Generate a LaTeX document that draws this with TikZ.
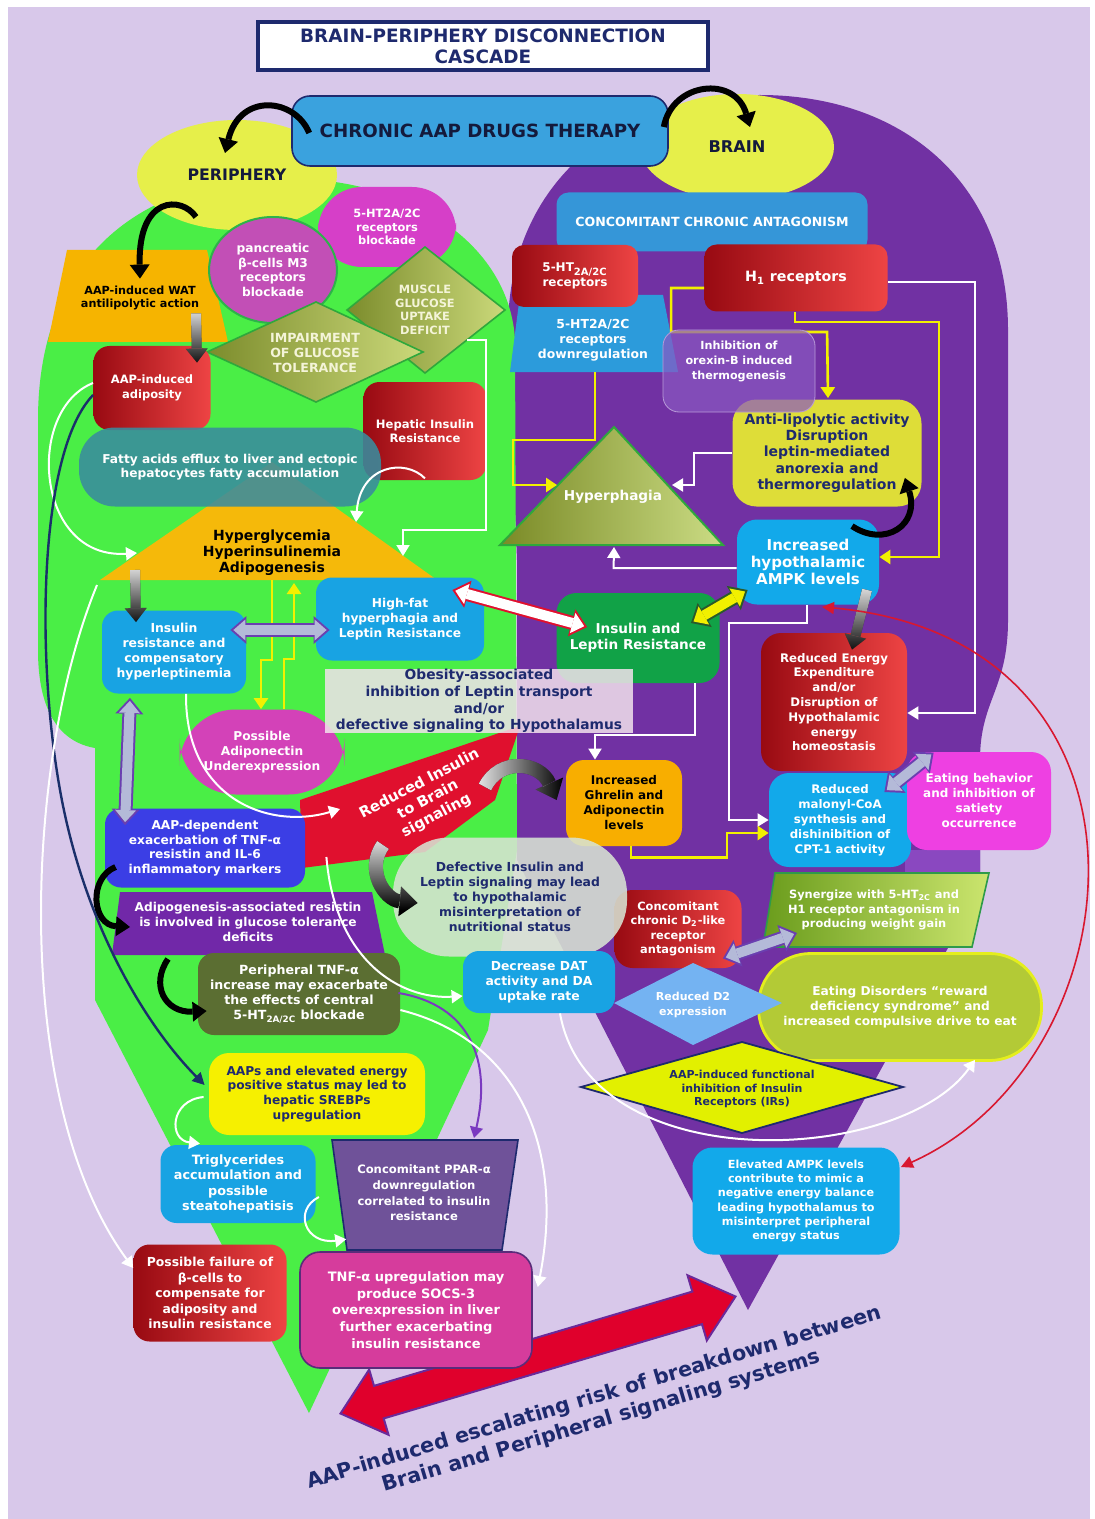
\documentclass[tikz,border=0pt]{standalone}
\usepackage{fontspec}
\setmainfont{DejaVu Sans}
\usetikzlibrary{arrows.meta,shapes.geometric,calc,fadings}
\definecolor{lav}{HTML}{D8C8EA}
\definecolor{grn}{HTML}{4AEE46}
\definecolor{pur}{HTML}{7131A3}
\definecolor{yel}{HTML}{E6EF4A}
\definecolor{navy}{HTML}{1E2A6E}
\definecolor{ink}{HTML}{141A3C}
\definecolor{cblue}{HTML}{3AA2DE}
\definecolor{bblue}{HTML}{18A3E3}
\definecolor{ablue}{HTML}{12A9EA}
\definecolor{cblue2}{HTML}{3596D8}
\definecolor{dblue}{HTML}{2C9BDB}
\definecolor{dred}{HTML}{980A12}
\definecolor{lred}{HTML}{EE4444}
\definecolor{mag1}{HTML}{D63FC8}
\definecolor{pancc}{HTML}{C24FB6}
\definecolor{pgreen}{HTML}{2DB34A}
\definecolor{olD}{HTML}{7C8C2C}
\definecolor{olL}{HTML}{CBD97A}
\definecolor{cream}{HTML}{F4F4D8}
\definecolor{dgreen}{HTML}{2FA83C}
\definecolor{orng}{HTML}{F6B400}
\definecolor{orng2}{HTML}{F5B90A}
\definecolor{teal}{HTML}{3A8C9E}
\definecolor{vblue}{HTML}{3B3EE5}
\definecolor{apur}{HTML}{7128A8}
\definecolor{olv}{HTML}{5B6E32}
\definecolor{ylw2}{HTML}{F6F000}
\definecolor{ppurp}{HTML}{6F5299}
\definecolor{pink2}{HTML}{D63C9C}
\definecolor{pbord}{HTML}{5A2C7A}
\definecolor{rred}{HTML}{E0102E}
\definecolor{obes}{HTML}{F2E2EC}
\definecolor{defc}{HTML}{D8E3D3}
\definecolor{orx}{HTML}{8A58C2}
\definecolor{orxb}{HTML}{B89AD8}
\definecolor{ylw3}{HTML}{DEDD38}
\definecolor{olD2}{HTML}{7A8A26}
\definecolor{olL2}{HTML}{CBDC84}
\definecolor{igreen}{HTML}{11A247}
\definecolor{gorange}{HTML}{F8AE00}
\definecolor{emag}{HTML}{EE40E2}
\definecolor{sgD}{HTML}{6A9C1C}
\definecolor{sgL}{HTML}{CBE56E}
\definecolor{sgB}{HTML}{2E9A4A}
\definecolor{ldblue}{HTML}{74B3F2}
\definecolor{edis}{HTML}{B3CA36}
\definecolor{edisB}{HTML}{E4EE1C}
\definecolor{ylw4}{HTML}{E2F000}
\definecolor{yln}{HTML}{F2F000}
\definecolor{wlav}{HTML}{B4BAD8}
\definecolor{dbpur}{HTML}{6A3FB0}
\definecolor{bigred}{HTML}{E0002C}
\definecolor{arrbord}{HTML}{6A2A9A}
\definecolor{adm}{HTML}{D342B8}
\definecolor{rcurve}{HTML}{D81830}
\definecolor{pcurve}{HTML}{7A3AC0}
\definecolor{ncurve}{HTML}{1A2F6A}
\definecolor{dkg}{HTML}{2A5A2A}
\definecolor{pur3}{HTML}{8A48C0}
\tikzfading[name=fdS, top color=transparent!0, bottom color=transparent!100]
\tikzfading[name=fdE, left color=transparent!0, right color=transparent!100]
\tikzset{
  every node/.style={align=center, inner sep=0pt},
  fs/.style 2 args={font=\fontsize{#1}{#2}\selectfont\bfseries},
  sz/.style 2 args={minimum width=#1*0.5pt, minimum height=#2*0.5pt},
  rbox/.style={rounded corners=#1},
  redg/.style={left color=dred, right color=lred},
  wt/.style={text=white},
  wline/.style={draw=white, line width=1pt, -{Triangle[length=5.5pt,width=6.5pt]}},
  yline/.style={draw=yln, line width=1.3pt, -{Triangle[length=5.5pt,width=7pt]}},
  blk/.style={draw=black, line width=3pt, -{Triangle[length=7pt,width=10pt,line width=0pt]}},
  garrS/.style={line width=5pt, -{Triangle[length=7pt,width=11pt,line width=0pt]}},
  garrC/.style={line width=7pt, -{Triangle[length=9pt,width=15pt,line width=0pt]}},
}
\newcommand\gradarr[3]{\draw[#1,black] #3; \draw[#1,black!10,path fading=#2] #3;}
\newcommand\dblarr[4]{%
  \draw[line width=7pt,draw=#3,{Triangle[length=8pt,width=14pt,line width=0pt]}-{Triangle[length=8pt,width=14pt,line width=0pt]}] #1 -- #2;
  \draw[line width=5pt,draw=#4,shorten <=1.5pt,shorten >=1.5pt,{Triangle[length=6pt,width=10.5pt,line width=0pt]}-{Triangle[length=6pt,width=10.5pt,line width=0pt]}] #1 -- #2;}
\begin{document}
\begin{tikzpicture}[x=0.5pt,y=-0.5pt]
\useasboundingbox (0,0) rectangle (1094,1519);
\fill[white] (0,0) rectangle (1094,1519);
\fill[lav] (8,7) rectangle (1090,1519);
% brain region
\fill[pur] (748,1310) -- (517,860) -- (517,560) -- (508,330) .. controls (508,180) and (620,95) .. (760,95) .. controls (900,95) and (1008,180) .. (1008,330) -- (1008,620) .. controls (1008,690) and (980,700) .. (980,760) -- (980,890) -- cycle;
\fill[pur3] (905,850) -- (980,850) -- (980,890) -- (955,935) -- (905,935) -- cycle;
% periphery region
\fill[grn] (309,1413) -- (95,1000) -- (95,748) .. controls (60,742) and (38,712) .. (38,650) -- (38,420) .. controls (38,250) and (150,178) .. (280,178) .. controls (420,178) and (510,250) .. (515,340) -- (517,850) -- (488,1030) -- cycle;
% big double arrow
\begin{scope}[shift={(538,1355)},rotate=16.5]
\filldraw[fill=bigred,draw=arrbord,line width=1pt] (-206,0) -- (-166,-34) -- (-166,-17) -- (166,-17) -- (166,-34) -- (206,0) -- (166,34) -- (166,17) -- (-166,17) -- (-166,34) -- cycle;
\end{scope}
\node[rotate=16.5,text=navy,fs={10.3}{12.3}] (risk) at (598,1410) {AAP-induced escalating risk of breakdown between\\Brain and Peripheral signaling systems};
% top
\node[ellipse,fill=yel,sz={200}{110},text=ink,fs={7.9}{9}] (periphery) at (237,175) {PERIPHERY};
\node[ellipse,fill=yel,sz={194}{106},text=ink,fs={8.1}{9}] (brain) at (737,147) {BRAIN};
\node[rbox=9pt,fill=cblue,draw=navy,line width=0.8pt,sz={376}{70},text=ink,fs={9.1}{10}] (chronic) at (480,131) {CHRONIC AAP DRUGS THERAPY};
\node[fill=white,draw=navy,line width=1.6pt,sz={450}{48},text=navy,fs={9.2}{10.5}] (title) at (483,46) {BRAIN-PERIPHERY DISCONNECTION\\CASCADE};
% periphery nodes
\fill[orng] (67,250) -- (207,250) -- (228,342) -- (48,342) -- cycle;
\node[sz={180}{92},text=black,fs={5.6}{6.8}] (wat) at (140,298) {AAP-induced WAT\\antilipolytic action};
\node[rbox=22pt,fill=mag1,sz={138}{80},wt,fs={5.7}{6.9}] (htblk) at (387,227) {5-HT2A/2C\\receptors\\blockade};
\node[ellipse,fill=pancc,draw=pgreen,line width=1pt,sz={128}{106},wt,fs={6.1}{7.4}] (panc) at (273,270) {pancreatic\\β-cells M3\\receptors\\blockade};
\shadedraw[left color=olD,right color=olL,draw=dgreen,line width=0.8pt] (347,310) -- (425,247) -- (505,310) -- (425,373) -- cycle;
\node[text=cream,fs={5.7}{6.8}] (muscle) at (425,310) {MUSCLE\\GLUCOSE\\UPTAKE\\DEFICIT};
\shadedraw[left color=olD,right color=olL,draw=dgreen,line width=0.8pt] (207,352) -- (316,302) -- (423,352) -- (316,402) -- cycle;
\node[text=cream,fs={6.3}{7.5}] (impair) at (315,353) {IMPAIRMENT\\OF GLUCOSE\\TOLERANCE};
\node[rbox=8pt,redg,sz={117}{84},wt,fs={5.75}{7.3}] (adipos) at (152,388) {AAP-induced\\adiposity};
\node[rbox=8pt,redg,sz={123}{98},wt,fs={5.8}{7.3}] (hepatic) at (425,431) {Hepatic Insulin\\Resistance};
\fill[orng2] (100,580) -- (272,462) -- (437,580) -- cycle;
\node[rbox=18pt,fill=teal,fill opacity=0.88,text opacity=1,sz={302}{79},wt,fs={6.1}{7.1}] (fatty) at (230,467) {Fatty acids efflux to liver and ectopic\\hepatocytes fatty accumulation};
\node[text=black,fs={7}{8}] (hyper) at (272,553) {Hyperglycemia\\Hyperinsulinemia\\Adipogenesis};
\node[rbox=8pt,fill=bblue,sz={144}{83},wt,fs={6.2}{7.5}] (insres) at (174,652) {Insulin\\resistance and\\compensatory\\hyperleptinemia};
\node[rbox=8pt,fill=bblue,sz={168}{83},wt,fs={6.1}{7.5}] (highfat) at (400,619) {High-fat\\hyperphagia and\\Leptin Resistance};
\node[rbox=28pt,fill=adm,sz={165}{85},wt,fs={6.1}{7.5}] (adipon) at (262,752) {Possible\\Adiponectin\\Underexpression};
\fill[rred] (300,800) -- (520,726) -- (495,800) -- (425,852) -- (302,868) -- cycle;
\node[rotate=28,wt,fs={7.4}{9}] (redsig) at (428,800) {Reduced Insulin\\to Brain\\signaling};
\node[rbox=8pt,fill=vblue,sz={200}{79},wt,fs={6.1}{7.3}] (aapdep) at (205,848) {AAP-dependent\\exacerbation of TNF-α\\resistin and IL-6\\inflammatory markers};
\fill[apur] (120,892) -- (372,892) -- (385,955) -- (112,955) -- cycle;
\node[wt,fs={6.1}{7.3}] (adipo) at (248,922) {Adipogenesis-associated resistin\\is involved in glucose tolerance\\deficits};
\node[rbox=8pt,fill=olv,sz={202}{82},wt,fs={6.3}{7.5}] (ptnf) at (299,994) {Peripheral TNF-α\\increase may exacerbate\\the effects of central\\5-HT\textsubscript{2A/2C} blockade};
\node[rbox=10pt,fill=ylw2,sz={216}{82},text=navy,fs={6.1}{7.4}] (aaps) at (317,1094) {AAPs and elevated energy\\positive status may led to\\hepatic SREBPs\\upregulation};
\node[rbox=8pt,fill=bblue,sz={155}{78},wt,fs={6.4}{7.6}] (trig) at (238,1184) {Triglycerides\\accumulation and\\possible\\steatohepatisis};
\filldraw[fill=ppurp,draw=navy,line width=0.8pt] (332,1140) -- (518,1140) -- (502,1250) -- (347,1250) -- cycle;
\node[wt,fs={5.8}{7.8}] (ppar) at (424,1193) {Concomitant PPAR-α\\downregulation\\correlated to insulin\\resistance};
\node[rbox=8pt,redg,sz={153}{97},wt,fs={6.2}{7.7}] (failure) at (210,1293) {Possible failure of\\β-cells to\\compensate for\\adiposity and\\insulin resistance};
\node[rbox=10pt,fill=pink2,draw=pbord,line width=0.8pt,sz={232}{116},wt,fs={6.5}{8.3}] (tnfup) at (416,1310) {TNF-α upregulation may\\produce SOCS-3\\overexpression in liver\\further exacerbating\\insulin resistance};
% brain nodes
\node[rbox=6pt,fill=cblue2,sz={311}{59},wt,fs={6.3}{7.5}] (conc) at (712,222) {CONCOMITANT CHRONIC ANTAGONISM};
\fill[dblue] (520,295) -- (663,295) -- (678,372) -- (510,372) -- cycle;
\node[wt,fs={6.2}{7.5}] (downreg) at (593,340) {5-HT2A/2C\\receptors\\downregulation};
\node[rbox=6pt,redg,sz={126}{62},wt,fs={6}{7.4}] (ht2r) at (575,276) {5-HT\textsubscript{2A/2C}\\receptors};
\node[rbox=6pt,redg,sz={183}{67},wt,fs={7.1}{8}] (h1) at (796,278) {H\textsubscript{1} receptors};
\node[rbox=12pt,fill=ylw3,sz={189}{107},text=navy,fs={7}{8.1}] (anti) at (827,453) {Anti-lipolytic activity\\Disruption\\leptin-mediated\\anorexia and\\thermoregulation};
\draw[yline] ($(h1.west)+(0,10)$) -- ++(-33,0) -- ++(0,44) -- ++(156,0) -- ($(anti.north)+(1,-1)$);
\node[rbox=8pt,fill=orx,fill opacity=0.7,draw=orxb,text opacity=1,sz={152}{82},wt,fs={5.6}{7.5}] (orexin) at (739,371) {Inhibition of\\orexin-B induced\\thermogenesis\\[3pt]};
\shadedraw[left color=olD2,right color=olL2,draw=dgreen,line width=1pt] (500,545) -- (614,427) -- (723,545) -- cycle;
\node[wt,fs={6.8}{8}] (hyperph) at (613,497) {Hyperphagia};
\node[rbox=10pt,fill=ablue,sz={142}{85},wt,fs={7.5}{8.7}] (ampk) at (808,562) {Increased\\hypothalamic\\AMPK levels};
\node[rbox=10pt,fill=igreen,sz={163}{90},wt,fs={6.8}{8.2}] (insleptin) at (638,638) {Insulin and\\Leptin Resistance};
\node[rbox=10pt,redg,sz={146}{138},wt,fs={5.9}{7.4}] (energy) at (834,702) {Reduced Energy\\Expenditure\\and/or\\Disruption of\\Hypothalamic\\energy\\homeostasis};
\node[rbox=9pt,fill=gorange,sz={116}{86},text=black,fs={6}{7.5}] (ghrelin) at (624,803) {Increased\\Ghrelin and\\Adiponectin\\levels};
\node[rbox=10pt,fill=ablue,sz={142}{94},wt,fs={5.9}{7.5}] (malonyl) at (840,820) {Reduced\\malonyl-CoA\\synthesis and\\dishinibition of\\CPT-1 activity};
\node[rbox=10pt,fill=emag,sz={144}{98},wt,fs={6}{7.5}] (eatbeh) at (979,801) {Eating behavior\\and inhibition of\\satiety\\occurrence};
\node[rbox=9pt,redg,sz={127}{78},wt,fs={5.7}{7.2}] (d2) at (678,929) {Concomitant\\chronic D\textsubscript{2}-like\\receptor\\antagonism};
\shadedraw[left color=sgD,right color=sgL,draw=sgB,line width=0.8pt] (775,873) -- (989,873) -- (972,947) -- (763,947) -- cycle;
\node[wt,fs={5.7}{7.4}] (syn) at (874,910) {Synergize with 5-HT\textsubscript{2C} and\\H1 receptor antagonism in\\producing weight gain};
\node[rbox=26pt,fill=edis,draw=edisB,line width=1.4pt,sz={283}{107},wt,fs={6.1}{7.5}] (eatdis) at (900,1007) {Eating Disorders “reward\\deficiency syndrome” and\\increased compulsive drive to eat};
\fill[ldblue] (614,1003) -- (693,963) -- (782,1003) -- (693,1045) -- cycle;
\node[wt,fs={5.5}{7.4}] (redd2) at (693,1005) {Reduced D2\\expression};
\filldraw[fill=ylw4,draw=navy,line width=0.9pt] (581,1087) -- (742,1042) -- (903,1087) -- (742,1133) -- cycle;
\node[text=navy,fs={5.5}{6.8}] (aapfunc) at (742,1089) {AAP-induced functional\\inhibition of Insulin\\Receptors (IRs)};
\node[rbox=10pt,fill=ablue,sz={207}{107},wt,fs={5.6}{7.1}] (elevated) at (796,1201) {Elevated AMPK levels\\contribute to mimic a\\negative energy balance\\leading hypothalamus to\\misinterpret peripheral\\energy status};
% overlays
\node[fill=obes,fill opacity=0.85,text opacity=1,sz={308}{63},text=navy,fs={6.9}{8.3}] (obesity) at (479,701) {Obesity-associated\\inhibition of Leptin transport\\and/or\\defective signaling to Hypothalamus};
\node[rbox=28pt,fill=defc,fill opacity=0.88,text opacity=1,sz={234}{119},text=navy,fs={6.2}{7.5}] (defect) at (510,897) {Defective Insulin and\\Leptin signaling may lead\\to hypothalamic\\misinterpretation of\\nutritional status};
\node[rbox=8pt,fill=bblue,sz={152}{62},wt,fs={6.2}{7.5}] (dat) at (539,982) {Decrease DAT\\activity and DA\\uptake rate};
% ---------- connectors ----------
\draw[blk] ($(chronic.west)+(18,2)$) .. controls (295,98) and (240,92) .. ($(periphery.center)+(-12,-22)$);
\draw[blk] ($(chronic.east)+(-5,-4)$) .. controls (672,82) and (735,75) .. ($(brain.center)+(13,-20)$);
\draw[blk] ($(periphery.center)+(-41,42)$) .. controls (182,196) and (138,195) .. ($(wat.north)+(0,27)$);
\gradarr{garrS}{fdS}{($(wat.south)+(56,-31)$) -- ($(adipos.north)+(45,17)$)}
\gradarr{garrS}{fdS}{($(hyper)+(-137,17)$) -- ($(insres.north)+(-38,12)$)}
\gradarr{garrS}{fdS}{($(ampk.south)+(59,-15)$) -- ($(energy.north)+(18,17)$)}
\gradarr{garrC}{fdE}{($(redsig)+(57,-13)$) .. controls (500,757) and (540,762) .. ($(ghrelin.west)+(-9,-3)$)}
\gradarr{garrC}{fdS}{($(redsig)+(-45,45)$) .. controls (365,870) and (385,900) .. ($(defect.west)+(25,6)$)}
\draw[blk] ($(aapdep.west)+(11,19)$) .. controls (88,878) and (92,925) .. ($(adipo)+(-118,5)$);
\draw[blk] ($(adipo)+(-80,37)$) .. controls (150,985) and (165,1013) .. ($(ptnf.west)+(9,17)$);
\draw[wline] ($(insres.south)+(12,0)$) .. controls (185,800) and (270,830) .. ($(redsig)+(-88,9)$);
\draw[wline] ($(aapdep.east)+(21,9)$) .. controls (335,960) and (400,1000) .. ($(dat.west)+(0,14)$);
\draw[wline] ($(muscle)+(42,30)$) -- ++(19,0) |- ($(hyper)+(131,-23)$) -- ($(hyper)+(131,3)$);
\draw[wline] ($(hepatic.south)+(0,-2)$) .. controls (405,458) and (360,465) .. ($(hyper)+(84,-31)$);
\draw[wline] ($(adipos.west)+(0,-5)$) .. controls (25,410) and (35,560) .. ($(hyper)+(-135,0)$);
\draw[draw=ncurve,line width=1.2pt,-{Triangle[length=6pt,width=6pt]}] ($(adipos.west)+(0,7)$) .. controls (40,450) and (35,650) .. (60,790) .. controls (85,930) and (150,1030) .. ($(aaps.west)+(-4,-9)$);
\draw[wline] ($(hyper)+(-175,32)$) .. controls (25,760) and (10,1100) .. ($(failure.west)+(0,-25)$);
\draw[yline] ($(hyper)+(0,27)$) -- ++(0,80) -- ++(-11,0) -- ($(adipon.north)+(-1,0)$);
\draw[yline] ($(adipon.north)+(22,0)$) -- ++(0,-50) -- ++(10,0) -- ($(hyper)+(22,30)$);
\dblarr{($(insres.east)+(-16,-22)$)}{($(highfat.west)+(14,11)$)}{dbpur}{wlav}
\dblarr{($(highfat.east)+(-32,-29)$)}{($(insleptin.west)+(31,-11)$)}{rred}{white}
\dblarr{($(insres.south)+(-44,4)$)}{($(aapdep.north)+(-80,17)$)}{dbpur}{wlav}
\dblarr{($(ampk.west)+(11,28)$)}{($(insleptin.east)+(-29,-15)$)}{dkg}{yln}
\dblarr{($(malonyl.east)+(-27,-28)$)}{($(eatbeh.north west)+(27,1)$)}{dbpur}{wlav}
\dblarr{($(d2.south east)+(-19,-10)$)}{($(syn)+(-77,23)$)}{dbpur}{wlav}
\draw[draw=pcurve,line width=1pt,-{Triangle[length=5.5pt,width=6.5pt]}] ($(ptnf.east)+(-2,-1)$) .. controls (470,1005) and (492,1060) .. ($(ppar)+(50,-55)$);
\draw[wline] ($(ptnf.east)+(0,16)$) .. controls (520,1040) and (565,1150) .. ($(tnfup.east)+(5,-23)$);
\draw[wline] ($(aaps.west)+(-5,3)$) .. controls (170,1100) and (168,1140) .. ($(trig.north)+(-38,-1)$);
\draw[wline] ($(trig.east)+(3,13)$) .. controls (293,1210) and (305,1245) .. ($(tnfup.north west)+(47,-12)$);
\draw[yline] ($(downreg)+(2,32)$) -- ++(0,68) -- ++(-82,0) -- ++(0,45) -- ($(hyperph)+(-56,-12)$);
\draw[wline] (anti.west) -- ++(-38,0) -- ++(0,32) -- ($(hyperph)+(59,-12)$);
\draw[yline] ($(h1.south)+(-1,0)$) -- ++(0,10) -- ++(144,0) |- ($(ampk.east)+(0,-5)$);
\draw[wline] ($(h1.east)+(0,4)$) -- ++(87,0) |- ($(energy.east)+(0,11)$);
\draw[blk] ($(ampk.north)+(44,7)$) .. controls (885,548) and (920,525) .. ($(anti.south east)+(-17,-29)$);
\draw[wline] ($(ampk.west)+(0,6)$) -- ++(-123,0) -- ($(hyperph)+(1,50)$);
\draw[wline] ($(insleptin.south)+(57,0)$) -- ++(0,52) -| ($(ghrelin.north)+(-29,0)$);
\draw[wline] ($(ampk.south)+(-1,0)$) -- ++(0,18) -- ++(-78,0) |- (malonyl.west);
\draw[yline] ($(ghrelin.south)+(7,0)$) -- ++(0,11) -- ++(96,0) |- ($(malonyl.west)+(0,13)$);
\draw[draw=rcurve,line width=0.8pt,{Triangle[length=6pt,width=6pt]}-{Triangle[length=6pt,width=6pt]}] ($(ampk.south)+(14,2)$) .. controls (1180,640) and (1140,1060) .. ($(elevated.east)+(1,-34)$);
\draw[wline] ($(dat.south)+(21,0)$) .. controls (590,1180) and (900,1165) .. ($(eatdis.south)+(75,-2)$);
\end{tikzpicture}
\end{document}
